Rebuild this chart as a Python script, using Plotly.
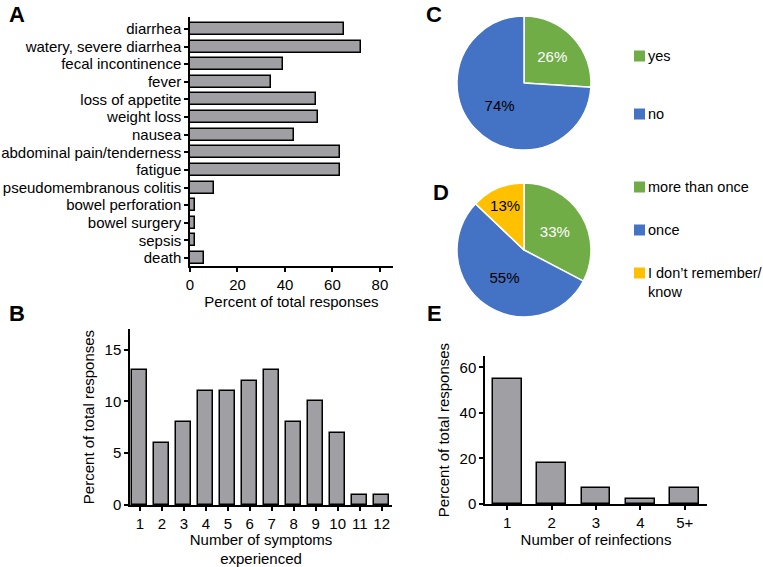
import plotly.graph_objects as go

# ---------------- data ----------------
symptoms = ["diarrhea", "watery, severe diarrhea", "fecal incontinence", "fever",
            "loss of appetite", "weight loss", "nausea", "abdominal pain/tenderness",
            "fatigue", "pseudomembranous colitis", "bowel perforation", "bowel surgery",
            "sepsis", "death"]
symptom_pct = [65, 72, 39, 34, 53, 54, 44, 63, 63, 10, 2, 2, 2, 6]

n_symptoms = list(range(1, 13))
n_symptoms_pct = [13, 6, 8, 11, 11, 12, 13, 8, 10, 7, 1, 1]

reinf_labels = ["1", "2", "3", "4", "5+"]
reinf_pct = [55, 18, 7, 2, 7]

c_labels = ["yes", "no"]
c_vals = [26, 74]
d_labels = ["more than once", "once", "I don’t remember/<br>know"]
d_vals = [33, 55, 13]

GREEN, BLUE, YELLOW = "#70AD47", "#4472C4", "#FFC000"
BAR = "#A0A0A4"
W, H = 763, 567
FONT = "Liberation Sans, Arial, sans-serif"


def xp(x):
    return x / W


def yp(y):
    return 1 - y / H


fig = go.Figure()

# Panel A
fig.add_trace(go.Bar(x=symptom_pct, y=list(range(len(symptoms))), orientation="h",
                     width=0.68, marker=dict(color=BAR, line=dict(color="black", width=1.5)),
                     xaxis="x", yaxis="y", showlegend=False))
# Panel B
fig.add_trace(go.Bar(x=n_symptoms, y=n_symptoms_pct, width=0.68,
                     marker=dict(color=BAR, line=dict(color="black", width=1.5)),
                     xaxis="x2", yaxis="y2", showlegend=False))
# Panel E
fig.add_trace(go.Bar(x=reinf_labels, y=reinf_pct, width=0.65,
                     marker=dict(color=BAR, line=dict(color="black", width=1.5)),
                     xaxis="x3", yaxis="y3", showlegend=False))

# Pies C and D
r = 67
cx, cyC, cyD = 524, 83, 250
fig.add_trace(go.Pie(labels=c_labels, values=c_vals, sort=False, direction="clockwise",
                     rotation=0, text=[f"{v}%" for v in c_vals], textinfo="text",
                     textposition="inside", insidetextorientation="horizontal",
                     textfont=dict(size=15, color=["white", "black"], family=FONT),
                     marker=dict(colors=[GREEN, BLUE], line=dict(color="white", width=1.5)),
                     domain=dict(x=[xp(cx - r), xp(cx + r)], y=[yp(cyC + r), yp(cyC - r)]),
                     showlegend=False, hoverinfo="label+percent"))
fig.add_trace(go.Pie(labels=d_labels, values=d_vals, sort=False, direction="clockwise",
                     rotation=0, text=[f"{v}%" for v in d_vals], textinfo="text",
                     textposition="inside", insidetextorientation="horizontal",
                     textfont=dict(size=15, color=["white", "black", "black"], family=FONT),
                     marker=dict(colors=[GREEN, BLUE, YELLOW], line=dict(color="white", width=1.5)),
                     domain=dict(x=[xp(cx - r), xp(cx + r)], y=[yp(cyD + r), yp(cyD - r)]),
                     showlegend=False, hoverinfo="label+percent"))

axis_common = dict(showline=True, linecolor="black", linewidth=1.5, ticks="outside",
                   ticklen=4, tickwidth=1.5, tickcolor="black", showgrid=False,
                   zeroline=False, automargin=False,
                   tickfont=dict(size=15, color="black", family=FONT),
                   title_font=dict(size=15, color="black", family=FONT))

fig.update_layout(
    width=W, height=H, margin=dict(l=0, r=0, t=0, b=0, autoexpand=False),
    paper_bgcolor="white", plot_bgcolor="white",
    font=dict(family=FONT, size=15, color="black"),
    bargap=0,
    xaxis=dict(axis_common, domain=[xp(190), xp(393)], range=[0, 85.5],
               tickvals=[0, 20, 40, 60, 80], anchor="y",
               title=dict(text="Percent of total responses", standoff=1)),
    yaxis=dict(axis_common, domain=[yp(266), yp(17)], range=[13.45, -0.68],
               tickvals=list(range(len(symptoms))), ticktext=symptoms, anchor="x"),
    xaxis2=dict(axis_common, domain=[xp(130), xp(392)], range=[0.55, 12.47],
                tickvals=n_symptoms, anchor="y2",
                title=dict(text="Number of symptoms<br>experienced", standoff=1)),
    yaxis2=dict(axis_common, domain=[yp(505), yp(329)], range=[0, 17],
                tickvals=[0, 5, 10, 15], anchor="x2",
                title=dict(text="Percent of total responses", standoff=6)),
    xaxis3=dict(axis_common, domain=[xp(485), xp(707)], type="category",
                range=[-0.5, 4.5], anchor="y3",
                title=dict(text="Number of reinfections", standoff=2)),
    yaxis3=dict(axis_common, domain=[yp(504), yp(356)], range=[0, 65],
                tickvals=[0, 20, 40, 60], anchor="x3",
                title=dict(text="Percent of total responses", standoff=6)),
)

# panel letters
for letter, x, y in [("A", 17, 14), ("B", 17, 313), ("C", 434, 14), ("D", 441, 193), ("E", 434, 313)]:
    fig.add_annotation(text=f"<b>{letter}</b>", x=xp(x), y=yp(y), xref="paper", yref="paper",
                       showarrow=False, font=dict(size=22, color="black", family=FONT),
                       xanchor="center", yanchor="middle")

# legends for pies
legend_items = [(c_labels[0], GREEN, 56), (c_labels[1], BLUE, 114),
                (d_labels[0], GREEN, 187), (d_labels[1], BLUE, 230), (d_labels[2], YELLOW, 273)]
for label, color, y in legend_items:
    fig.add_shape(type="rect", xref="paper", yref="paper",
                  x0=xp(634), x1=xp(645), y0=yp(y + 5.5), y1=yp(y - 5.5),
                  fillcolor=color, line=dict(width=0))
    fig.add_annotation(text=label, x=xp(646), y=yp(y), xref="paper", yref="paper",
                       showarrow=False, xanchor="left",
                       yanchor="top" if "<br>" in label else "middle",
                       yshift=10 if "<br>" in label else 0,
                       align="left", font=dict(size=14.5, color="black", family=FONT))

fig.write_html("out.html", config={"displayModeBar": False},
               post_script="document.body.style.margin='0px';"
                           "document.body.style.overflow='hidden';")
